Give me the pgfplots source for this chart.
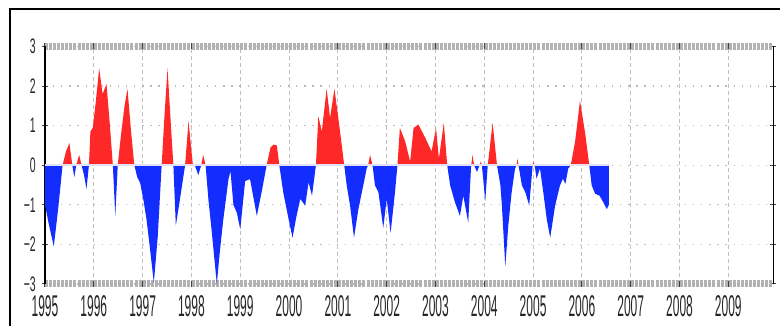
\documentclass[border=0pt]{standalone}
\usepackage{fontspec}
\setmainfont{Liberation Sans}
\usepackage{pgfplots}
\usepackage{pgfplotstable}
\pgfplotsset{compat=1.18}
\definecolor{myred}{RGB}{255,40,40}
\definecolor{myblue}{RGB}{20,45,255}
\definecolor{zeroline}{RGB}{225,225,245}
\newcommand\sq[1]{\scalebox{0.4}[1]{#1}}
\newcommand\sy[1]{\scalebox{0.5}[1]{#1}}
\pgfplotstableread{
x v
1995.00 -1.0
1995.08 -1.5
1995.18 -2.05
1995.27 -1.1
1995.36 0
1995.43 0.35
1995.50 0.56
1995.56 0
1995.60 -0.3
1995.64 0
1995.70 0.26
1995.75 0
1995.80 -0.25
1995.85 -0.6
1995.90 0
1995.93 0.85
1995.98 0.95
1996.04 1.6
1996.11 2.45
1996.18 1.8
1996.26 2.05
1996.33 1.0
1996.39 0
1996.44 -1.28
1996.49 0
1996.56 0.8
1996.63 1.5
1996.69 1.93
1996.76 0.9
1996.83 0
1996.89 -0.3
1996.95 -0.45
1997.02 -0.9
1997.08 -1.37
1997.15 -2.1
1997.23 -2.97
1997.31 -1.8
1997.39 0
1997.45 1.3
1997.51 2.45
1997.57 1.2
1997.63 0
1997.68 -1.53
1997.76 -0.9
1997.87 0
1997.94 1.12
1998.03 0
1998.07 0
1998.14 -0.25
1998.20 0
1998.24 0.26
1998.29 0
1998.35 -0.9
1998.41 -1.6
1998.52 -3.0
1998.58 -2.2
1998.65 -1.4
1998.76 -0.34
1998.80 -0.15
1998.86 -1.0
1998.93 -1.2
1999.00 -1.62
1999.10 -0.4
1999.20 -0.35
1999.34 -1.28
1999.45 -0.6
1999.54 0
1999.62 0.45
1999.68 0.52
1999.75 0.5
1999.80 0
1999.88 -0.68
1999.98 -1.3
2000.07 -1.83
2000.15 -1.3
2000.23 -0.85
2000.33 -1.02
2000.40 -0.43
2000.47 -0.77
2000.55 0
2000.60 1.24
2000.67 0.85
2000.77 1.93
2000.84 1.2
2000.93 1.93
2001.05 0.8
2001.13 0
2001.18 -0.5
2001.25 -1.02
2001.33 -1.83
2001.42 -1.11
2001.52 -0.51
2001.59 -0.08
2001.62 0
2001.66 0.26
2001.71 0
2001.76 -0.51
2001.83 -0.68
2001.93 -1.58
2002.00 -0.85
2002.08 -1.71
2002.17 -0.68
2002.22 0
2002.27 0.94
2002.38 0.6
2002.48 0.09
2002.55 0.94
2002.65 1.03
2002.79 0.69
2002.92 0.35
2003.01 0.94
2003.07 0.17
2003.17 1.07
2003.24 0
2003.30 -0.51
2003.40 -0.94
2003.50 -1.28
2003.57 -0.77
2003.67 -1.45
2003.73 0
2003.76 0.26
2003.79 0
2003.85 -0.17
2003.90 0
2003.93 0.1
2003.95 0
2004.02 -0.9
2004.07 0
2004.17 1.07
2004.26 0
2004.33 -0.51
2004.36 -1.02
2004.43 -2.56
2004.49 -1.54
2004.56 -0.68
2004.63 -0.08
2004.66 0
2004.68 0.17
2004.70 0
2004.77 -0.51
2004.84 -0.68
2004.92 -1.02
2004.99 0
2005.01 0.1
2005.03 0
2005.07 -0.34
2005.14 -0.08
2005.21 -0.7
2005.28 -1.37
2005.35 -1.83
2005.45 -1.02
2005.55 -0.51
2005.61 -0.34
2005.66 -0.47
2005.72 -0.08
2005.77 0
2005.86 0.6
2005.96 1.63
2006.07 0.77
2006.15 0
2006.20 -0.51
2006.27 -0.72
2006.36 -0.77
2006.44 -0.94
2006.51 -1.11
2006.55 -1.0
}\datatable

\begin{document}
\begin{tikzpicture}[x=1pt,y=1pt]
\useasboundingbox (-45,-42) rectangle (735,284);
\draw[line width=2pt, black] (-35,-60) -- (-35,275) -- (760,275);
\begin{axis}[
  at={(0,0)}, anchor=south west,
  scale only axis, width=728.3pt, height=237.5pt,
  xmin=1995, xmax=2009.92, ymin=-3, ymax=3,
  xtick={1995,...,2009}, ytick={-3,...,3},
  xticklabels={\sq{1995},\sq{1996},\sq{1997},\sq{1998},\sq{1999},\sq{2000},\sq{2001},\sq{2002},\sq{2003},\sq{2004},\sq{2005},\sq{2006},\sq{2007},\sq{2008},\sq{2009}},
  yticklabels={\sy{−3},\sy{−2},\sy{−1},\sy{0},\sy{1},\sy{2},\sy{3}},
  xticklabel style={font=\fontsize{30}{30}\selectfont, text=black!85, anchor=north, inner sep=0pt, yshift=-8pt},
  yticklabel style={font=\fontsize{21}{21}\selectfont, text=black!85, anchor=east, inner sep=0pt, xshift=-6pt},
  separate axis lines,
  x axis line style={draw=gray!60, line width=7pt, dash pattern=on 3pt off 1.07pt},
  y axis line style={draw=black, line width=1.5pt},
  tick align=center, major tick length=6pt,
  tick style={black!75, line width=1pt},
  grid=major,
  x grid style={gray!50, line width=0.8pt, dash pattern=on 4pt off 3pt},
  y grid style={gray!55, line width=1.3pt, dash pattern=on 1.3pt off 6.8pt},
]
\begin{scope}
\clip (axis cs:1994,0) rectangle (axis cs:2011,3.5);
\addplot[fill=myred, draw=none] table[x=x,y=v] {\datatable} \closedcycle;
\end{scope}
\begin{scope}
\clip (axis cs:1994,-3.5) rectangle (axis cs:2011,0);
\addplot[fill=myblue, draw=none] table[x=x,y=v] {\datatable} \closedcycle;
\end{scope}
\addplot[zeroline, line width=2pt] coordinates {(1995,0) (2006.55,0)};
\end{axis}
\end{tikzpicture}
\end{document}
